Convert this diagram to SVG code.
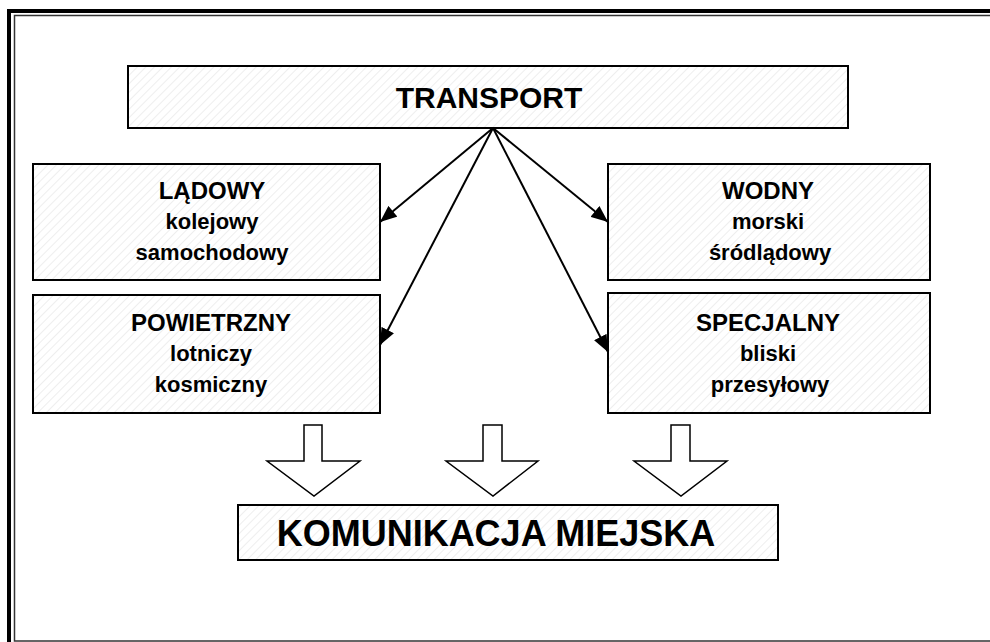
<svg xmlns="http://www.w3.org/2000/svg" width="990" height="642" viewBox="0 0 990 642">
<defs>
<pattern id="hatch" patternUnits="userSpaceOnUse" width="6" height="6" patternTransform="rotate(45)">
<rect width="6" height="6" fill="#ffffff"/>
<line x1="0" y1="0" x2="0" y2="6" stroke="#eeeeee" stroke-width="2"/>
</pattern>
<marker id="ahb" viewBox="0 0 12 10" refX="12" refY="5" markerWidth="17" markerHeight="14" orient="auto" markerUnits="userSpaceOnUse">
<path d="M0,0 L12,5 L0,10 z" fill="#000"/>
</marker>
</defs>
<style>
.box{fill:url(#hatch);stroke:#000;stroke-width:2}
.t{font-family:"Liberation Sans",Arial,sans-serif;font-weight:bold;text-anchor:middle;fill:#000}
.h{font-size:24px}
.s{font-size:22px}
.conn{stroke:#000;stroke-width:2;fill:none}
.big{fill:#fff;stroke:#000;stroke-width:1.5}
</style>
<rect x="0" y="0" width="990" height="642" fill="#fff"/>
<g id="frame">
<rect x="9" y="11" width="1000" height="1000" fill="none" stroke="#000" stroke-width="4"/>
<rect x="14.5" y="15.5" width="1000" height="625.5" fill="none" stroke="#333" stroke-width="1.5"/>
</g>
<g id="transport">
<rect class="box" x="128" y="66" width="720" height="62"/>
<text class="t" x="489" y="108" font-size="30">TRANSPORT</text>
</g>
<g id="ladowy">
<rect class="box" x="33" y="164" width="347" height="116"/>
<text class="t h" x="212" y="199">LĄDOWY</text>
<text class="t s" x="212" y="229">kolejowy</text>
<text class="t s" x="212" y="260">samochodowy</text>
</g>
<g id="powietrzny">
<rect class="box" x="33" y="295" width="347" height="118"/>
<text class="t h" x="211" y="331">POWIETRZNY</text>
<text class="t s" x="211" y="361">lotniczy</text>
<text class="t s" x="211" y="392">kosmiczny</text>
</g>
<g id="wodny">
<rect class="box" x="608" y="164" width="322" height="116"/>
<text class="t h" x="768" y="199">WODNY</text>
<text class="t s" x="768" y="229">morski</text>
<text class="t s" x="770" y="260">śródlądowy</text>
</g>
<g id="specjalny">
<rect class="box" x="608" y="293" width="322" height="120"/>
<text class="t h" x="768" y="331">SPECJALNY</text>
<text class="t s" x="768" y="361">bliski</text>
<text class="t s" x="770" y="392">przesyłowy</text>
</g>
<g id="komunikacja">
<rect class="box" x="238" y="505" width="540" height="55"/>
<text class="t" x="496" y="546" font-size="36">KOMUNIKACJA MIEJSKA</text>
</g>
<g id="connectors">
<line class="conn" x1="493" y1="128" x2="380" y2="222" marker-end="url(#ahb)"/>
<line class="conn" x1="493" y1="128" x2="380" y2="345" marker-end="url(#ahb)"/>
<line class="conn" x1="493" y1="128" x2="608" y2="222" marker-end="url(#ahb)"/>
<line class="conn" x1="493" y1="128" x2="608" y2="352" marker-end="url(#ahb)"/>
<path class="big" d="M304,425 H322 V461 H360 L314,496 L267,461 H304 Z"/>
<path class="big" d="M483,425 H502 V461 H538 L493,496 L446,461 H483 Z"/>
<path class="big" d="M671,425 H690 V461 H727 L681,496 L634,461 H671 Z"/>
</g>
</svg>
